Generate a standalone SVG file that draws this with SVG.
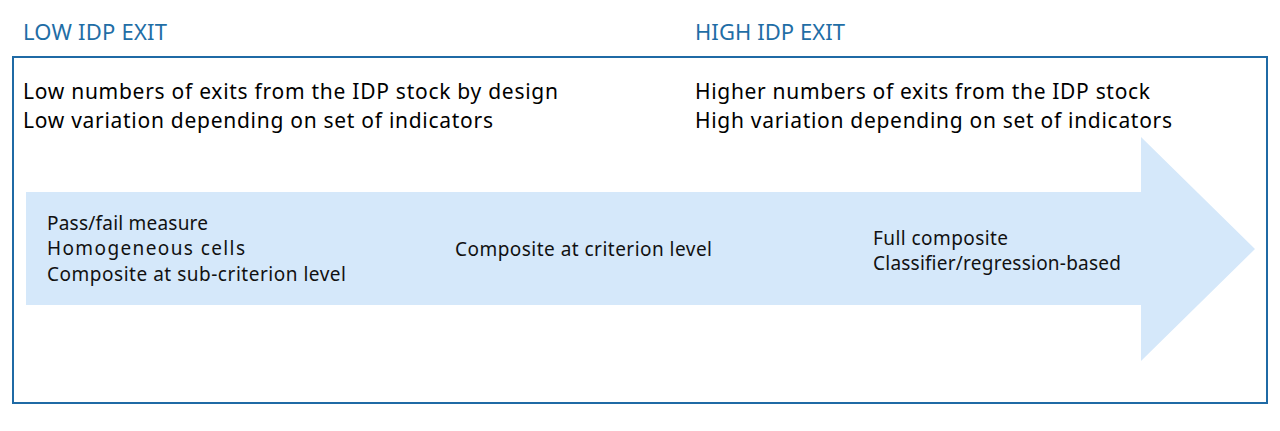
<svg xmlns="http://www.w3.org/2000/svg" width="1280" height="431" viewBox="0 0 1280 431">
<style>
.hdr{font-family:"Segoe UI","Noto Sans","Open Sans",sans-serif;font-size:22px;fill:#1f6ea6}
.big{font-family:"Segoe UI","Noto Sans","Open Sans",sans-serif;font-size:21px;fill:#000}
.sm{font-family:"Segoe UI","Noto Sans","Open Sans",sans-serif;font-size:19px;fill:#111}
</style>
<rect width="1280" height="431" fill="#fff"/>
<g id="frame">
<rect x="13" y="57" width="1254" height="346" fill="none" stroke="#1f6aa5" stroke-width="2"/>
</g>
<g id="arrow">
<polygon points="26,192 1141,192 1141,137 1255,249 1141,361 1141,305 26,305" fill="#d5e8fa"/>
</g>
<g id="low-exit">
<text class="hdr" x="23" y="40" textLength="144">LOW IDP EXIT</text>
<text class="big" x="23" y="99" textLength="535">Low numbers of exits from the IDP stock by design</text>
<text class="big" x="23" y="128" textLength="470">Low variation depending on set of indicators</text>
</g>
<g id="high-exit">
<text class="hdr" x="695" y="40" textLength="150">HIGH IDP EXIT</text>
<text class="big" x="695" y="99" textLength="455">Higher numbers of exits from the IDP stock</text>
<text class="big" x="695" y="128" textLength="477">High variation depending on set of indicators</text>
</g>
<g id="stage-low">
<text class="sm" x="47" y="230" textLength="161">Pass/fail measure</text>
<text class="sm" x="47" y="255" textLength="198">Homogeneous cells</text>
<text class="sm" x="47" y="281" textLength="299">Composite at sub-criterion level</text>
</g>
<g id="stage-mid">
<text class="sm" x="455" y="256" textLength="257">Composite at criterion level</text>
</g>
<g id="stage-high">
<text class="sm" x="873" y="245" textLength="135">Full composite</text>
<text class="sm" x="873" y="270" textLength="248">Classifier/regression-based</text>
</g>
</svg>
